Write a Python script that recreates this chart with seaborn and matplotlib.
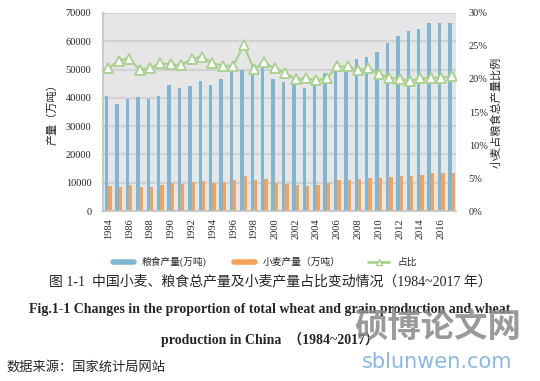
import numpy as np
import pandas as pd
import seaborn as sns
import matplotlib.pyplot as plt
from matplotlib.lines import Line2D

years = list(range(1984, 2018))
# 粮食产量 (万吨)
grain = [40800, 38000, 39500, 40350, 39500, 40800, 44700, 43600, 44350, 45800,
         44700, 46800, 49500, 49800, 51300, 50600, 46500, 45600, 44700, 43400,
         47300, 48800, 50600, 49600, 53700, 54400, 56200, 59400, 62000, 63500,
         64500, 66500, 66500, 66500]
# 小麦产量 (万吨)
wheat = [8800, 8500, 9060, 8500, 8500, 9060, 9900, 9500, 10200, 10600,
         9900, 10200, 10900, 12350, 10900, 11300, 9900, 9500, 9060, 8850,
         9100, 9900, 11000, 11000, 11300, 11600, 11600, 12000, 12300, 12400,
         12750, 13450, 13450, 13450]
# 占比 (%)
share = [21.6, 22.8, 23.1, 21.4, 21.6, 22.4, 22.2, 22.1, 23.0, 23.4,
         22.4, 22.0, 22.0, 25.1, 21.5, 22.5, 21.6, 20.9, 20.0, 20.1,
         19.8, 20.1, 21.9, 21.9, 21.3, 21.6, 20.8, 20.2, 20.0, 19.7,
         20.1, 20.1, 20.2, 20.4]

sns.set_style("white")
plt.rcParams['font.family'] = ['Liberation Serif', 'Noto Sans CJK SC']
plt.rcParams['axes.unicode_minus'] = False

blue = '#7fb6d2'
orange = '#f5a25d'
green = '#a9d18e'

df = pd.DataFrame({'year': [str(y) for y in years],
                   '粮食产量(万吨)': grain,
                   '小麦产量（万吨）': wheat})
long = df.melt(id_vars='year', var_name='series', value_name='value')

fig = plt.figure(figsize=(5.4, 3.81), dpi=100)
ax = fig.add_axes([0.191, 0.446, 0.654, 0.520])
ax.set_facecolor('#e6e6e6')
sns.barplot(data=long, x='year', y='value', hue='series',
            palette=[blue, orange], width=0.64, gap=0, saturation=1,
            errorbar=None, legend=False, linewidth=0, ax=ax)
ax.set_ylim(0, 70000)
ax.set_yticks(range(0, 70001, 10000))
ax.yaxis.grid(True, color='#d2d2d2', lw=1.6)
ax.set_axisbelow(True)
ax.set_xticks(range(0, len(years), 2))
ax.set_xticklabels([str(y) for y in years[::2]], rotation=90)
ax.tick_params(axis='x', length=0, pad=5, labelsize=7.5)
ax.tick_params(axis='y', direction='inout', length=3, color='#bfbfbf',
               pad=7, labelsize=7.5)
ax.set_xlabel('')
ax.set_ylabel('产量（万吨）', fontsize=8, labelpad=6)
for s in ['top', 'right']:
    ax.spines[s].set_visible(False)
for s in ['left', 'bottom']:
    ax.spines[s].set_color('#c4c4c4')
    ax.spines[s].set_linewidth(1.2)

ax2 = ax.twinx()
sns.lineplot(x=np.arange(len(years)), y=share, ax=ax2, color=green, lw=1.6,
             marker='^', markersize=6.5, markerfacecolor='white',
             markeredgecolor=green, markeredgewidth=1.3)
ax2.set_ylim(0, 30)
ax2.set_yticks(range(0, 31, 5))
ax2.set_yticklabels([f'{v}%' for v in range(0, 31, 5)])
ax2.tick_params(axis='y', length=0, pad=9, labelsize=7.5)
ax2.set_ylabel('小麦占粮食总产量比例', fontsize=8, labelpad=2)
ax2.grid(False)
for s in ax2.spines.values():
    s.set_visible(False)
ax.set_xlim(-0.5, len(years) - 0.55)

handles = [Line2D([], [], color=blue, lw=4),
           Line2D([], [], color=orange, lw=4),
           Line2D([], [], color=green, lw=2, marker='^', markersize=4,
                  markerfacecolor='white', markeredgecolor=green)]
fig.legend(handles, ['粮食产量(万吨)', '小麦产量（万吨）', '占比'],
           loc='center', bbox_to_anchor=(0.49, 0.312), ncol=3, frameon=False,
           fontsize=7, handlelength=2.2, columnspacing=2.8)

fig.text(0.5, 0.262, '图 1-1  中国小麦、粮食总产量及小麦产量占比变动情况（1984~2017 年）',
         ha='center', va='center', fontsize=10)
fig.text(0.5, 0.187,
         'Fig.1-1 Changes in the proportion of total wheat and grain production and wheat',
         ha='center', va='center', fontsize=10, fontweight='bold')
fig.text(0.5, 0.108, 'production in China  （1984~2017）',
         ha='center', va='center', fontsize=10, fontweight='bold')
fig.text(0.012, 0.035, '数据来源：国家统计局网站', ha='left', va='center',
         fontsize=9.5)

# watermark
fig.text(0.81, 0.14, '硕博论文网', ha='center', va='center', fontsize=24,
         color='#888888', alpha=0.85, family=['Noto Sans CJK SC'],
         fontweight='bold')
fig.text(0.81, 0.05, 'sblunwen.com', ha='center', va='center', fontsize=15,
         color='#8ab8e8', family=['DejaVu Sans'])

fig.savefig('out.png', dpi=100)
